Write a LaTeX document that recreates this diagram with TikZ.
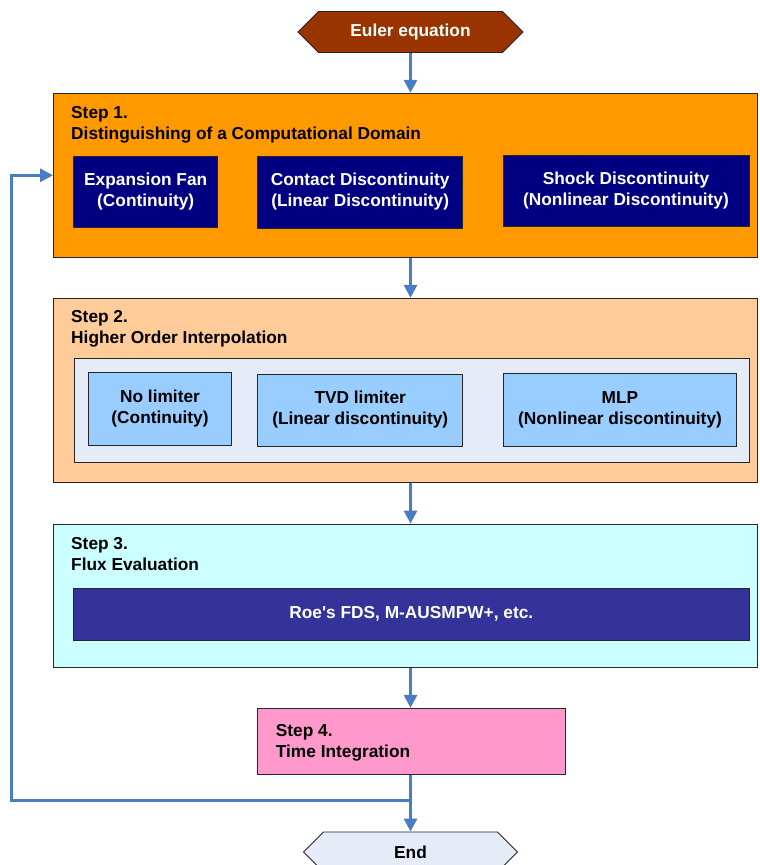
\documentclass[tikz,border=0pt]{standalone}
\usepackage{fontspec}
\setmainfont{Liberation Sans}
\usepackage{xcolor}
\usepackage{tikz}
\usetikzlibrary{arrows.meta,shapes.symbols}
\definecolor{eulerred}{HTML}{993300}
\definecolor{stepone}{HTML}{FF9900}
\definecolor{regionnavy}{HTML}{000080}
\definecolor{steptwo}{HTML}{FFCC99}
\definecolor{panelgray}{HTML}{E6ECF7}
\definecolor{limblue}{HTML}{99CCFF}
\definecolor{stepthree}{HTML}{CCFFFF}
\definecolor{roeblue}{HTML}{333399}
\definecolor{stepfour}{HTML}{FF99CC}
\definecolor{flowblue}{HTML}{4A7EC4}
\tikzset{
  stepbox/.style={draw=black!85, line width=0.9pt, inner sep=0pt},
  steptext/.style={anchor=north west, inner sep=0pt, align=left},
  hexbox/.style={draw=black!85, line width=0.9pt, signal, signal to=west and east,
    signal pointer angle=90, minimum height=41, inner sep=0pt},
  flow/.style={draw=flowblue, line width=3pt, -{Triangle[length=13pt,width=13pt]}}
}

\begin{document}
\begin{tikzpicture}[x=1pt, y=-1pt,
  font=\fontsize{17.3}{21}\selectfont\bfseries]
\useasboundingbox (0,0) rectangle (760,865);

\node[hexbox, fill=eulerred, text=white, minimum width=225] (euler) at (410.5,32) {Euler equation};

\node[stepbox, fill=stepone, minimum width=704, minimum height=164] (s1) at (405.5,175.3) {};
\node[steptext] (t1) at (71,106) {Step 1.\\Distinguishing of a Computational Domain};
\node[stepbox, fill=regionnavy, text=white, align=center, minimum width=144, minimum height=71.7] (exp) at (145.7,191.9) {Expansion Fan\\(Continuity)};
\node[stepbox, fill=regionnavy, text=white, align=center, minimum width=205, minimum height=72] (con) at (360.2,192) {Contact Discontinuity\\(Linear Discontinuity)};
\node[stepbox, fill=regionnavy, text=white, align=center, minimum width=246, minimum height=71.7] (shk) at (626,190.9) {Shock Discontinuity\\(Nonlinear Discontinuity)};

\node[stepbox, fill=steptwo, minimum width=704, minimum height=184.4] (s2) at (405.5,390.5) {};
\node[steptext] (t2) at (71,310.7) {Step 2.\\Higher Order Interpolation};
\node[stepbox, fill=panelgray, minimum width=675, minimum height=104.2] (lim) at (411.5,410.4) {};
\node[stepbox, fill=limblue, align=center, minimum width=143.4, minimum height=72.3] (nol) at (160,408.9) {No limiter\\(Continuity)};
\node[stepbox, fill=limblue, align=center, minimum width=205, minimum height=72] (tvd) at (360.2,410) {TVD limiter\\(Linear discontinuity)};
\node[stepbox, fill=limblue, align=center, minimum width=233.4, minimum height=72.7] (mlp) at (620,409.7) {MLP\\(Nonlinear discontinuity)};

\node[stepbox, fill=stepthree, minimum width=704, minimum height=143.3] (s3) at (405.5,595.7) {};
\node[steptext] (t3) at (71,537.5) {Step 3.\\Flux Evaluation};
\node[stepbox, fill=roeblue, text=white, minimum width=675.3, minimum height=51.7] (roe) at (411.3,614.2) {Roe\textquotesingle s FDS, M-AUSMPW+, etc.};

\node[stepbox, fill=stepfour, minimum width=307.3, minimum height=65.7] (s4) at (411.3,741.2) {};
\node[steptext] (t4) at (275.7,724.3) {Step 4.\\Time Integration};

\node[hexbox, fill=panelgray, minimum width=214, minimum height=40] (end) at (410.5,852) {End};

\draw[flow] (euler.south) -- (euler.south |- s1.north);
\draw[flow] (s1.south -| euler.south) -- (s2.north -| euler.south);
\draw[flow] (s2.south -| euler.south) -- (s3.north -| euler.south);
\draw[flow] (s3.south -| euler.south) -- (s4.north -| euler.south);
\draw[flow] (s4.south -| euler.south) -- (end.north);
\coordinate (junc) at (410.5,800);
\draw[flow] (junc) -| ([xshift=-42pt]s1.west) -- (s1.west);
\end{tikzpicture}
\end{document}
